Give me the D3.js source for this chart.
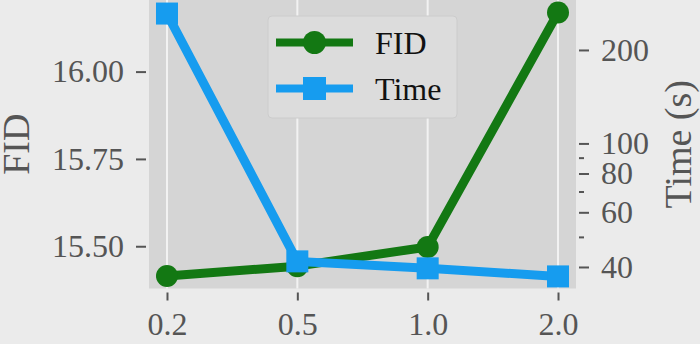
<!DOCTYPE html>
<html><head><meta charset="utf-8">
<script src="https://cdn.jsdelivr.net/npm/d3@7"></script>
<style>html,body{margin:0;padding:0;background:#ebebeb;}svg{display:block;}</style>
</head><body>
<script>
const categories = ["0.2", "0.5", "1.0", "2.0"];
const fidValues = [15.415, 15.443, 15.498, 16.169];
const timeValues = [262, 41.7, 39.6, 37.3];
const fidTicks = [15.50, 15.75, 16.00];
const timeMajorTicks = [40, 60, 80, 100, 200];
const timeMinorTicks = [50, 70, 90];
const seriesNames = ["FID", "Time"];

const W = 700, H = 344;
const L = 149, R = 576, T = 0, B = 288.5;
const svg = d3.select("body").append("svg").attr("width", W).attr("height", H);
svg.append("rect").attr("width", W).attr("height", H).attr("fill", "#ebebeb");

const x = d3.scalePoint().domain(categories).range([L, R]).padding(0.138);
const yL = d3.scaleLinear().domain([15.379, 16.205]).range([B, T]);
const yR = d3.scaleLog().domain([34.1, 289.7]).range([B, T]);

const green = "#137813", blue = "#169cef";
const font = "'Liberation Serif', 'Times New Roman', serif";

svg.append("rect").attr("x", L).attr("y", T).attr("width", R - L).attr("height", B - T).attr("fill", "#d5d5d5");
svg.append("defs").append("clipPath").attr("id", "clip").append("rect")
  .attr("x", L).attr("y", T).attr("width", R - L).attr("height", B - T);

// vertical grid
svg.append("g").selectAll("line").data(categories).join("line")
  .attr("x1", d => x(d)).attr("x2", d => x(d)).attr("y1", T).attr("y2", B)
  .attr("stroke", "#f2f2f2").attr("stroke-width", 2);

const plot = svg.append("g").attr("clip-path", "url(#clip)");
const lineF = d3.line().x((d, i) => x(categories[i])).y(d => yL(d));
const lineT = d3.line().x((d, i) => x(categories[i])).y(d => yR(d));
plot.append("path").attr("d", lineF(fidValues)).attr("fill", "none").attr("stroke", green).attr("stroke-width", 9).attr("stroke-linejoin", "round");
plot.selectAll("circle.f").data(fidValues).join("circle").attr("class", "f")
  .attr("cx", (d, i) => x(categories[i])).attr("cy", d => yL(d)).attr("r", 11).attr("fill", green);
plot.append("path").attr("d", lineT(timeValues)).attr("fill", "none").attr("stroke", blue).attr("stroke-width", 9).attr("stroke-linejoin", "miter");
plot.selectAll("rect.t").data(timeValues).join("rect").attr("class", "t")
  .attr("x", (d, i) => x(categories[i]) - 11).attr("y", d => yR(d) - 11).attr("width", 22).attr("height", 22).attr("fill", blue);

// axes
const tickColor = "#555555";
const gx = svg.append("g").attr("transform", `translate(0,${B + 4})`)
  .call(d3.axisBottom(x).tickSize(8).tickPadding(12));
const gl = svg.append("g").attr("transform", `translate(${L - 3},0)`)
  .call(d3.axisLeft(yL).tickValues(fidTicks).tickFormat(d3.format(".2f")).tickSize(10).tickPadding(12));
const gr = svg.append("g").attr("transform", `translate(${R + 3},0)`)
  .call(d3.axisRight(yR).tickValues(timeMajorTicks).tickFormat(d3.format("d")).tickSize(10).tickPadding(12));
const grm = svg.append("g").attr("transform", `translate(${R + 3},0)`)
  .call(d3.axisRight(yR).tickValues(timeMinorTicks).tickFormat("").tickSize(5));
[gx, gl, gr, grm].forEach(g => {
  g.select(".domain").remove();
  g.selectAll(".tick line").attr("stroke", tickColor).attr("stroke-width", 2);
  g.selectAll("text").attr("fill", "#555555").style("font-family", font).style("font-size", "32px");
});
gx.selectAll("text").attr("dy", "0.71em");

svg.append("text").attr("transform", `translate(29,${(T + B) / 2}) rotate(-90)`)
  .attr("text-anchor", "middle").attr("fill", "#555555").style("font-family", font).style("font-size", "38px").text("FID");
svg.append("text").attr("transform", `translate(691,${(T + B) / 2}) rotate(-90)`)
  .attr("text-anchor", "middle").attr("fill", "#555555").style("font-family", font).style("font-size", "38px").text("Time (s)");

// legend
const lg = svg.append("g");
lg.append("rect").attr("x", 268).attr("y", 16).attr("width", 189).attr("height", 102).attr("rx", 4)
  .attr("fill", "#dcdcdc").attr("stroke", "#cccccc").attr("stroke-width", 1);
const ly = [42.5, 88.5];
lg.append("line").attr("x1", 276).attr("x2", 353).attr("y1", ly[0]).attr("y2", ly[0]).attr("stroke", green).attr("stroke-width", 8);
lg.append("circle").attr("cx", 314.5).attr("cy", ly[0]).attr("r", 11.5).attr("fill", green);
lg.append("line").attr("x1", 276).attr("x2", 353).attr("y1", ly[1]).attr("y2", ly[1]).attr("stroke", blue).attr("stroke-width", 8);
lg.append("rect").attr("x", 303).attr("y", ly[1] - 11.5).attr("width", 23).attr("height", 23).attr("fill", blue);
lg.selectAll("text").data(seriesNames).join("text")
  .attr("x", 375).attr("y", (d, i) => ly[i] + 11).attr("fill", "#111111")
  .style("font-family", font).style("font-size", "32px").text(d => d);
</script>
</body></html>
